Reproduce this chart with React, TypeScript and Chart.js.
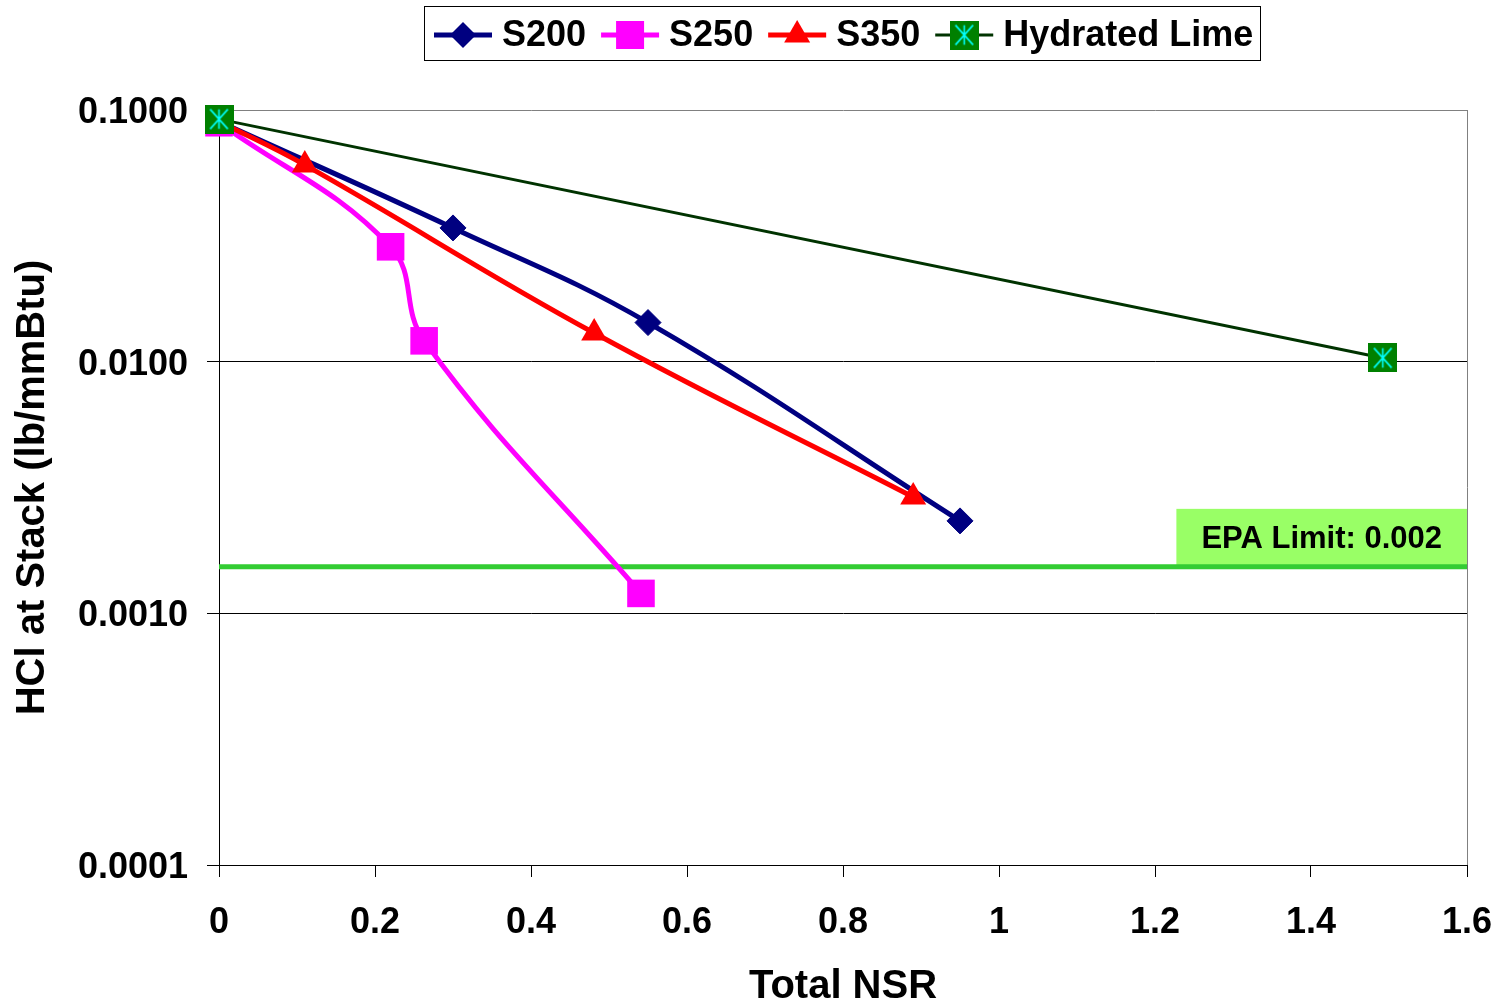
import React, { useEffect, useRef } from 'react';
import { Chart, registerables } from 'chart.js';

Chart.register(...registerables);

// ---------- data ----------
const SERIES_NAMES = ['S200', 'S250', 'S350', 'Hydrated Lime'];

const S200_NSR = [0, 0.3, 0.55, 0.95];
const S200_HCL = [0.09, 0.034, 0.0143, 0.00233];

const S250_NSR = [0, 0.22, 0.263, 0.541];
const S250_HCL = [0.089, 0.0286, 0.0121, 0.0012];

const S350_NSR = [0, 0.11, 0.481, 0.89];
const S350_HCL = [0.09, 0.0605, 0.013, 0.0029];

const LIME_NSR = [0, 1.492];
const LIME_HCL = [0.092, 0.01035];

const EPA_LINE_VALUE = 0.00153;
const EPA_LABEL = 'EPA Limit: 0.002';

const X_TICKS = [0, 0.2, 0.4, 0.6, 0.8, 1, 1.2, 1.4, 1.6];
const Y_TICKS = [0.0001, 0.001, 0.01, 0.1];

const X_TITLE = 'Total NSR';
const Y_TITLE = 'HCl at Stack (lb/mmBtu)';

const FONT = '"Liberation Sans", Arial, Helvetica, sans-serif';

const toPoints = (xs: number[], ys: number[]) => xs.map((x, i) => ({ x, y: ys[i] }));

const COLORS = ['#000080', '#ff00ff', '#ff0000', '#003300'];
const MARKERS = ['diamond', 'square', 'triangle', 'lime'];

function makeLimeMarker(size: number): HTMLCanvasElement {
  const c = document.createElement('canvas');
  c.width = size;
  c.height = size;
  const g = c.getContext('2d')!;
  g.fillStyle = '#008000';
  g.fillRect(0, 0, size, size);
  g.strokeStyle = '#00ffff';
  g.lineWidth = 1.6;
  const m = size / 2;
  const p = size * 0.16;
  g.beginPath();
  g.moveTo(m, p);
  g.lineTo(m, size - p);
  g.moveTo(p + 1, p);
  g.lineTo(size - p - 1, size - p);
  g.moveTo(size - p - 1, p);
  g.lineTo(p + 1, size - p);
  g.stroke();
  return c;
}

function drawMarker(ctx: CanvasRenderingContext2D, kind: string, x: number, y: number, color: string, lime: HTMLCanvasElement) {
  ctx.save();
  ctx.fillStyle = color;
  ctx.beginPath();
  if (kind === 'diamond') {
    const r = 13;
    ctx.moveTo(x, y - r);
    ctx.lineTo(x + r, y);
    ctx.lineTo(x, y + r);
    ctx.lineTo(x - r, y);
    ctx.closePath();
    ctx.fill();
  } else if (kind === 'square') {
    ctx.rect(x - 14, y - 14, 28, 28);
    ctx.fill();
  } else if (kind === 'triangle') {
    const r = 15;
    ctx.moveTo(x, y - r);
    ctx.lineTo(x + r * 0.866, y + r * 0.5);
    ctx.lineTo(x - r * 0.866, y + r * 0.5);
    ctx.closePath();
    ctx.fill();
  } else {
    ctx.drawImage(lime, x - lime.width / 2, y - lime.height / 2);
  }
  ctx.restore();
}

export default function App() {
  const ref = useRef<HTMLCanvasElement>(null);

  useEffect(() => {
    const lime = makeLimeMarker(29);

    const legendPlugin = {
      id: 'customLegend',
      afterDraw(chart: any) {
        const ctx: CanvasRenderingContext2D = chart.ctx;
        ctx.save();
        const boxL = 424, boxT = 6, boxR = 1260, boxB = 60;
        ctx.fillStyle = '#ffffff';
        ctx.fillRect(boxL, boxT, boxR - boxL, boxB - boxT);
        ctx.strokeStyle = '#000000';
        ctx.lineWidth = 1;
        ctx.strokeRect(boxL + 0.5, boxT + 0.5, boxR - boxL, boxB - boxT);
        ctx.font = `bold 36px ${FONT}`;
        ctx.textBaseline = 'middle';
        ctx.textAlign = 'left';
        const cy = 35;
        let x = 434;
        SERIES_NAMES.forEach((name, i) => {
          ctx.strokeStyle = COLORS[i];
          ctx.lineWidth = i === 3 ? 3 : 5;
          ctx.beginPath();
          ctx.moveTo(x, cy);
          ctx.lineTo(x + 58, cy);
          ctx.stroke();
          drawMarker(ctx, MARKERS[i], x + 29, cy, COLORS[i], lime);
          x += 68;
          ctx.fillStyle = '#000';
          ctx.fillText(name, x, cy + 1);
          x += ctx.measureText(name).width + 15;
        });
        ctx.restore();
      },
    };

    const epaPlugin = {
      id: 'epaLabel',
      beforeDatasetsDraw(chart: any) {
        const ctx: CanvasRenderingContext2D = chart.ctx;
        const y = chart.scales.y.getPixelForValue(EPA_LINE_VALUE);
        const right = chart.chartArea.right;
        ctx.save();
        ctx.font = `bold 31px ${FONT}`;
        const tw = ctx.measureText(EPA_LABEL).width;
        const w = tw + 50;
        const h = 58;
        ctx.fillStyle = '#99ff66';
        ctx.fillRect(right - w, y - h, w, h);
        ctx.fillStyle = '#000';
        ctx.textAlign = 'center';
        ctx.textBaseline = 'middle';
        ctx.fillText(EPA_LABEL, right - w / 2, y - h / 2 + 2);
        ctx.restore();
      },
    };

    const chart = new Chart(ref.current!, {
      type: 'line',
      data: {
        datasets: [
          {
            label: 'EPA',
            data: [{ x: X_TICKS[0], y: EPA_LINE_VALUE }, { x: X_TICKS[X_TICKS.length - 1], y: EPA_LINE_VALUE }],
            borderColor: '#33cc33',
            borderWidth: 5,
            pointRadius: 0,
            tension: 0,
            order: 5,
          },
          {
            label: SERIES_NAMES[0],
            data: toPoints(S200_NSR, S200_HCL),
            borderColor: COLORS[0],
            backgroundColor: COLORS[0],
            borderWidth: 5,
            pointStyle: 'rectRot',
            pointRadius: 13,
            pointBorderWidth: 1,
            pointBorderColor: COLORS[0],
            pointBackgroundColor: COLORS[0],
            tension: 0.4,
            clip: false,
            order: 4,
          },
          {
            label: SERIES_NAMES[1],
            data: toPoints(S250_NSR, S250_HCL),
            borderColor: COLORS[1],
            backgroundColor: COLORS[1],
            borderWidth: 5,
            pointStyle: 'rect',
            pointRadius: 19.5,
            pointBorderWidth: 0,
            pointBackgroundColor: COLORS[1],
            tension: 0.4,
            clip: false,
            order: 3,
          },
          {
            label: SERIES_NAMES[2],
            data: toPoints(S350_NSR, S350_HCL),
            borderColor: COLORS[2],
            backgroundColor: COLORS[2],
            borderWidth: 5,
            pointStyle: 'triangle',
            pointRadius: 15,
            pointBorderWidth: 0,
            pointBackgroundColor: COLORS[2],
            tension: 0.4,
            clip: false,
            order: 2,
          },
          {
            label: SERIES_NAMES[3],
            data: toPoints(LIME_NSR, LIME_HCL),
            borderColor: COLORS[3],
            backgroundColor: '#008000',
            borderWidth: 3,
            pointStyle: lime as any,
            pointRadius: 14,
            tension: 0,
            clip: false,
            order: 1,
          },
        ] as any,
      },
      options: {
        animation: false,
        responsive: false,
        devicePixelRatio: 1,
        layout: { padding: { top: 110, right: 38, bottom: 0, left: 0 } },
        plugins: {
          legend: { display: false },
          tooltip: { enabled: false },
        },
        scales: {
          x: {
            type: 'linear',
            min: 0,
            max: 1.6,
            afterBuildTicks: (s: any) => {
              s.ticks = X_TICKS.map((v) => ({ value: v }));
            },
            afterFit: (s: any) => {
              s.height = 140;
              s.paddingLeft = 0;
              s.paddingRight = 0;
            },
            border: { display: true, color: '#000', width: 1 },
            grid: {
              drawOnChartArea: true,
              drawTicks: true,
              tickLength: 12,
              color: (c: any) => (c.index === X_TICKS.length - 1 ? '#808080' : 'rgba(0,0,0,0)'),
              tickColor: '#000',
              lineWidth: 1,
            },
            ticks: {
              color: '#000',
              padding: 24,
              font: { family: FONT, size: 36, weight: 'bold' },
              callback: (v: any) => String(Number(Number(v).toFixed(1))),
              maxRotation: 0,
            },
            title: {
              display: true,
              text: X_TITLE,
              color: '#000',
              font: { family: FONT, size: 40, weight: 'bold', lineHeight: 0.9 },
              padding: 0,
            },
          },
          y: {
            type: 'logarithmic',
            min: Y_TICKS[0],
            max: Y_TICKS[Y_TICKS.length - 1],
            afterBuildTicks: (s: any) => {
              s.ticks = Y_TICKS.map((v) => ({ value: v }));
            },
            afterFit: (s: any) => {
              s.width = 219;
              s.paddingTop = 0;
              s.paddingBottom = 0;
            },
            border: { display: true, color: '#000', width: 1 },
            grid: {
              drawOnChartArea: true,
              drawTicks: true,
              tickLength: 12,
              color: (c: any) =>
                c.tick && c.tick.value === Y_TICKS[Y_TICKS.length - 1] ? '#808080' : '#000',
              tickColor: '#000',
              lineWidth: 1,
            },
            ticks: {
              color: '#000',
              padding: 19,
              labelOffset: 3,
              font: { family: FONT, size: 36, weight: 'bold' },
              callback: (v: any) => Number(v).toFixed(4),
            },
            title: {
              display: true,
              text: Y_TITLE,
              color: '#000',
              font: { family: FONT, size: 40, weight: 'bold', lineHeight: 1.2 },
              padding: { top: 9, bottom: 0 },
            },
          },
        },
      } as any,
      plugins: [epaPlugin, legendPlugin],
    });

    return () => chart.destroy();
  }, []);

  return (
    <div style={{ position: 'fixed', left: 0, top: 0, width: 1505, height: 1005, background: '#ffffff' }}>
      <canvas ref={ref} width={1505} height={1005} style={{ display: 'block' }} />
    </div>
  );
}
